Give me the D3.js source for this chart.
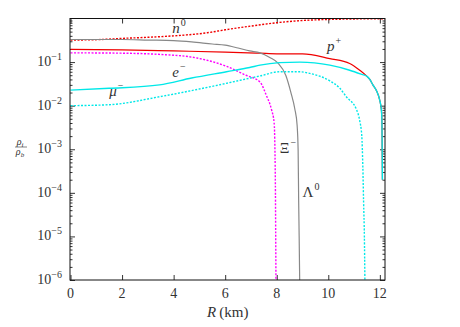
<!DOCTYPE html>
<html>
<head>
<meta charset="utf-8">
<script src="https://cdn.jsdelivr.net/npm/d3@7"></script>
<style>
  html, body { margin: 0; padding: 0; background: #fff; }
  svg { display: block; }
  svg text { font-family: "Times New Roman", "Liberation Serif", Tinos, "DejaVu Serif", serif; }
</style>
</head>
<body>
<div id="chart"></div>
<script>
// R (km) vs rho_i / rho_b
const neutron = [[0,0.32],[1.2,0.33],[2,0.35],[3,0.37],[4,0.40],[4.5,0.42],[5.3,0.47],[6,0.55],[7,0.67],[8,0.8],[9,0.9],[10,0.95],[11,0.975],[12.2,0.99]];
const proton  = [[0,0.195],[2,0.19],[4,0.18],[6,0.17],[7.35,0.16],[8,0.155],[9,0.155],[10.06,0.12],[10.83,0.093],[11.22,0.065],[11.5,0.047],[11.61,0.04],[11.73,0.03],[11.87,0.022],[12.0,0.013],[12.06,0.008],[12.08,0.0047],[12.09,0.001],[12.1,0.0002]];
const lambda  = [[0,0.33],[1,0.33],[2,0.33],[3,0.32],[4,0.31],[4.7,0.29],[5.5,0.26],[6,0.245],[6.5,0.21],[6.95,0.18],[7.35,0.163],[7.73,0.128],[8.05,0.095],[8.35,0.05],[8.55,0.02],[8.7,0.0085],[8.79,0.0036],[8.83,0.00095],[8.85,7e-5],[8.87,1e-5],[8.89,1e-6]];
const xi      = [[0,0.163],[2,0.16],[3.45,0.15],[4.7,0.13],[5.3,0.11],[6.05,0.08],[6.8,0.05],[7.35,0.035],[7.6,0.017],[7.8,0.008],[7.9,0.004],[7.93,0.001],[7.95,1e-4],[7.96,1e-5],[7.97,1e-6]];
const electron= [[0,0.0227],[1.5,0.025],[3.45,0.03],[4.7,0.043],[6.05,0.06],[6.95,0.075],[7.35,0.085],[8.1,0.097],[8.9,0.1],[10.06,0.085],[10.83,0.065],[11.3,0.052],[11.5,0.047],[11.61,0.04],[11.73,0.03],[11.87,0.022],[12.0,0.013],[12.06,0.008],[12.08,0.0047],[12.09,0.001],[12.1,0.0002]];
const muon    = [[0,0.010],[1.5,0.0105],[3.45,0.016],[5.4,0.027],[7.35,0.048],[8.1,0.06],[8.9,0.06],[9.28,0.055],[10.06,0.037],[10.45,0.025],[10.7,0.016],[11.1,0.008],[11.22,0.0045],[11.3,0.002],[11.34,4e-4],[11.37,6e-5],[11.4,1e-5],[11.42,1e-6]];

const xTicks = [0, 2, 4, 6, 8, 10, 12];
const yTickExp = [-6, -5, -4, -3, -2, -1];

const width = 460, height = 327;
const margin = { top: 18.5, right: 75, bottom: 47, left: 70 };

const svg = d3.select('#chart').append('svg')
  .attr('width', width)
  .attr('height', height);

const x = d3.scaleLinear().domain([-0.02, 12.2]).range([margin.left, width - margin.right]);
const y = d3.scaleLog().domain([1e-6, 1]).range([height - margin.bottom, margin.top]);

svg.append('defs').append('clipPath').attr('id', 'plot-clip')
  .append('rect')
  .attr('x', margin.left).attr('y', margin.top)
  .attr('width', width - margin.left - margin.right)
  .attr('height', height - margin.top - margin.bottom);

// ticks on all four sides, pointing inward
const minorY = [];
for (let e = -6; e < 0; e++) for (let k = 2; k <= 9; k++) minorY.push(k * Math.pow(10, e));

const tickColor = '#333';
svg.append('g')
  .attr('transform', `translate(0,${height - margin.bottom})`)
  .call(d3.axisBottom(x).tickValues(xTicks).tickSize(-5).tickFormat(''))
  .call(g => g.select('.domain').remove())
  .attr('color', tickColor);
svg.append('g')
  .attr('transform', `translate(0,${margin.top})`)
  .call(d3.axisTop(x).tickValues(xTicks).tickSize(-5).tickFormat(''))
  .call(g => g.select('.domain').remove())
  .attr('color', tickColor);

[[d3.axisLeft, margin.left], [d3.axisRight, width - margin.right]].forEach(([ax, pos]) => {
  svg.append('g')
    .attr('transform', `translate(${pos},0)`)
    .call(ax(y).tickValues(yTickExp.map(e => Math.pow(10, e))).tickSize(-5).tickFormat(''))
    .call(g => g.select('.domain').remove())
    .attr('color', tickColor);
  svg.append('g')
    .attr('transform', `translate(${pos},0)`)
    .call(ax(y).tickValues(minorY).tickSize(-2.5).tickFormat(''))
    .call(g => g.select('.domain').remove())
    .attr('color', tickColor);
});

// tick labels
svg.append('g').selectAll('text')
  .data(xTicks)
  .join('text')
  .attr('x', d => x(d))
  .attr('y', height - margin.bottom + 18)
  .attr('text-anchor', 'middle')
  .attr('font-size', 14)
  .attr('fill', '#333')
  .text(d => d);

const yl = svg.append('g').selectAll('text')
  .data(yTickExp)
  .join('text')
  .attr('x', margin.left - 8)
  .attr('y', d => y(Math.pow(10, d)) + 4)
  .attr('text-anchor', 'end')
  .attr('font-size', 14)
  .attr('fill', '#333');
yl.append('tspan').text('10');
yl.append('tspan').attr('dy', -6).attr('font-size', 10).text(d => '\u2212' + (-d));

// curves
const line = d3.line()
  .x(d => x(d[0]))
  .y(d => y(d[1]))
  .curve(d3.curveMonotoneX);

const series = [
  { data: neutron,  color: '#f00000', dash: '2,1.5', w: 1.4 },
  { data: proton,   color: '#f00000', dash: null,    w: 1.2 },
  { data: lambda,   color: '#888888', dash: null,    w: 1.2 },
  { data: xi,       color: '#ff00ff', dash: '2,1.5', w: 1.4 },
  { data: electron, color: '#00e8e8', dash: null,    w: 1.4 },
  { data: muon,     color: '#00e8e8', dash: '2,1.5', w: 1.4 }
];

const plot = svg.append('g').attr('clip-path', 'url(#plot-clip)');
series.forEach(s => {
  plot.append('path')
    .datum(s.data)
    .attr('fill', 'none')
    .attr('stroke', s.color)
    .attr('stroke-width', s.w)
    .attr('stroke-dasharray', s.dash)
    .attr('d', line);
});

// frame
svg.append('rect')
  .attr('x', margin.left).attr('y', margin.top)
  .attr('width', width - margin.left - margin.right)
  .attr('height', height - margin.top - margin.bottom)
  .attr('fill', 'none')
  .attr('stroke', '#111')
  .attr('stroke-width', 1);

// curve labels
const labels = [
  { name: 'n', sup: '0', r: 3.95, v: 0.46 },
  { name: 'p', sup: '+', r: 9.95, v: 0.178 },
  { name: 'e', sup: '\u2212', r: 3.95, v: 0.046 },
  { name: '\u03bc', sup: '\u2212', r: 1.5, v: 0.0165 },
  { name: '\u039e', sup: '\u2212', r: 8.12, v: 0.00081, upright: true },
  { name: '\u039b', sup: '0', r: 9.0, v: 0.000079, upright: true }
];
const lab = svg.append('g').selectAll('text')
  .data(labels)
  .join('text')
  .attr('x', d => x(d.r))
  .attr('y', d => y(d.v))
  .attr('font-size', 15)
  .attr('fill', '#333');
lab.append('tspan')
  .attr('font-style', d => d.upright ? 'normal' : 'italic')
  .text(d => d.name);
lab.append('tspan')
  .attr('dx', 1)
  .attr('dy', -7)
  .attr('font-size', 10)
  .text(d => d.sup);

// axis titles
const xt = svg.append('text')
  .attr('x', x(6.1))
  .attr('y', height - 10)
  .attr('text-anchor', 'middle')
  .attr('font-size', 15)
  .attr('fill', '#333');
xt.append('tspan').attr('font-style', 'italic').text('R');
xt.append('tspan').text('\u2009(km)');

const yt = svg.append('g').attr('transform', 'translate(21,147)');
const num = yt.append('text').attr('x', -1).attr('y', -2).attr('text-anchor', 'middle').attr('font-size', 10).attr('fill', '#333');
num.append('tspan').attr('font-style', 'italic').text('\u03c1');
num.append('tspan').attr('dy', 2).attr('font-size', 7).attr('font-style', 'italic').text('i');
yt.append('line').attr('x1', -6).attr('x2', 6).attr('y1', 0).attr('y2', 0)
  .attr('stroke', '#333').attr('stroke-width', 0.6);
const den = yt.append('text').attr('x', -1).attr('y', 8).attr('text-anchor', 'middle').attr('font-size', 10).attr('fill', '#333');
den.append('tspan').attr('font-style', 'italic').text('\u03c1');
den.append('tspan').attr('dy', 2).attr('font-size', 7).attr('font-style', 'italic').text('b');
</script>
</body>
</html>
